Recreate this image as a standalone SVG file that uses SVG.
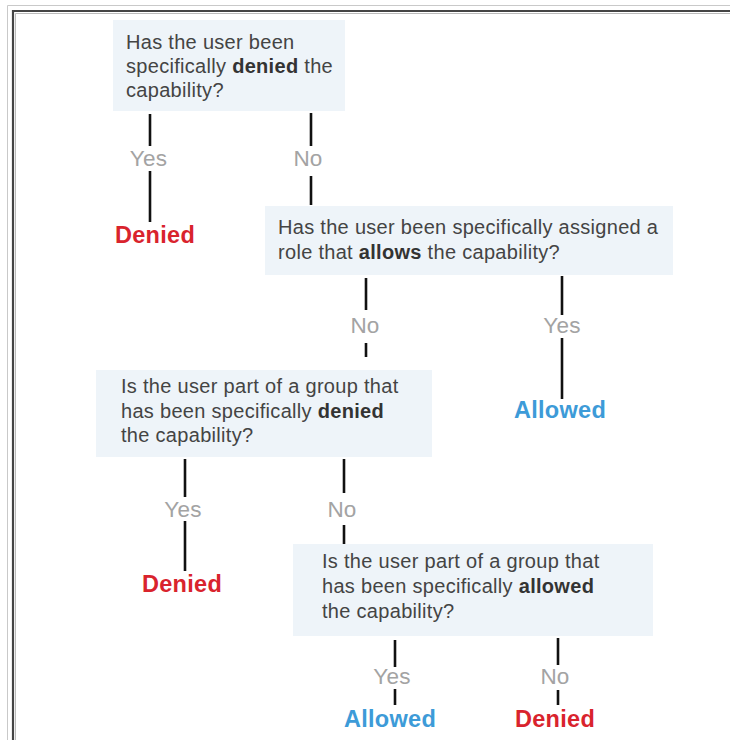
<svg xmlns="http://www.w3.org/2000/svg" width="730" height="740" viewBox="0 0 730 740">
<style>
.box{fill:#eef4f9;}
.q{font-family:"Liberation Sans",Arial,sans-serif;font-size:20px;letter-spacing:0.3px;fill:#444;}
.q tspan.b{font-weight:bold;fill:#333;}
.lbl{font-family:"Liberation Sans",Arial,sans-serif;font-size:22.5px;letter-spacing:0.2px;fill:#a3a3a3;text-anchor:middle;}
.out{font-family:"Liberation Sans",Arial,sans-serif;font-size:23.5px;letter-spacing:0.3px;font-weight:bold;text-anchor:middle;}
.den{fill:#d9232d;}
.alw{fill:#3d9bd8;}
.c{stroke:#111;stroke-width:2.6;fill:none;}
</style>
<rect width="730" height="740" fill="#fff"/>
<g id="frame" fill="none">
<path d="M7.5 740V5.5H730" stroke="#c9c9c9" stroke-width="1"/>
<path d="M13 740V11H730" stroke="#444" stroke-width="2.2"/>
<path d="M15.5 740V13.5H730" stroke="#bbb" stroke-width="1"/>
</g>
<g id="connectors">
<line class="c" x1="150" y1="114" x2="150" y2="146"/>
<line class="c" x1="150" y1="171" x2="150" y2="222"/>
<line class="c" x1="311" y1="113" x2="311" y2="146"/>
<line class="c" x1="311" y1="176" x2="311" y2="205"/>
<line class="c" x1="366" y1="278" x2="366" y2="310"/>
<line class="c" x1="366" y1="343" x2="366" y2="357"/>
<line class="c" x1="562" y1="276" x2="562" y2="315"/>
<line class="c" x1="562" y1="338" x2="562" y2="399"/>
<line class="c" x1="185" y1="459" x2="185" y2="497"/>
<line class="c" x1="185" y1="521" x2="185" y2="571"/>
<line class="c" x1="344" y1="459" x2="344" y2="493"/>
<line class="c" x1="344" y1="525" x2="344" y2="544"/>
<line class="c" x1="395" y1="640" x2="395" y2="667"/>
<line class="c" x1="395" y1="689" x2="395" y2="705"/>
<line class="c" x1="558" y1="638" x2="558" y2="665"/>
<line class="c" x1="558" y1="690" x2="558" y2="705"/>
<text class="lbl" x="148.5" y="166">Yes</text>
<text class="lbl" x="308" y="166">No</text>
<text class="lbl" x="365" y="333">No</text>
<text class="lbl" x="562" y="333">Yes</text>
<text class="lbl" x="183" y="517">Yes</text>
<text class="lbl" x="342" y="517">No</text>
<text class="lbl" x="392" y="684">Yes</text>
<text class="lbl" x="555" y="684">No</text>
</g>
<g id="q1">
<rect class="box" x="113" y="20" width="232" height="91"/>
<text class="q" x="126" y="49">Has the user been</text>
<text class="q" x="126" y="73">specifically <tspan class="b">denied</tspan> the</text>
<text class="q" x="126" y="97">capability?</text>
</g>
<g id="q2">
<rect class="box" x="265" y="206" width="408" height="69"/>
<text class="q" x="278" y="234">Has the user been specifically assigned a</text>
<text class="q" x="278" y="259">role that <tspan class="b">allows</tspan> the capability?</text>
</g>
<g id="q3">
<rect class="box" x="96" y="370" width="336" height="87"/>
<text class="q" x="121" y="393">Is the user part of a group that</text>
<text class="q" x="121" y="418">has been specifically <tspan class="b">denied</tspan></text>
<text class="q" x="121" y="442">the capability?</text>
</g>
<g id="q4">
<rect class="box" x="293" y="544" width="360" height="92"/>
<text class="q" x="322" y="568">Is the user part of a group that</text>
<text class="q" x="322" y="593">has been specifically <tspan class="b">allowed</tspan></text>
<text class="q" x="322" y="618">the capability?</text>
</g>
<g id="denied1"><text class="out den" x="155" y="243">Denied</text></g>
<g id="allowed1"><text class="out alw" x="560" y="418">Allowed</text></g>
<g id="denied2"><text class="out den" x="182" y="592">Denied</text></g>
<g id="allowed2"><text class="out alw" x="390" y="727">Allowed</text></g>
<g id="denied3"><text class="out den" x="555" y="727">Denied</text></g>
</svg>
